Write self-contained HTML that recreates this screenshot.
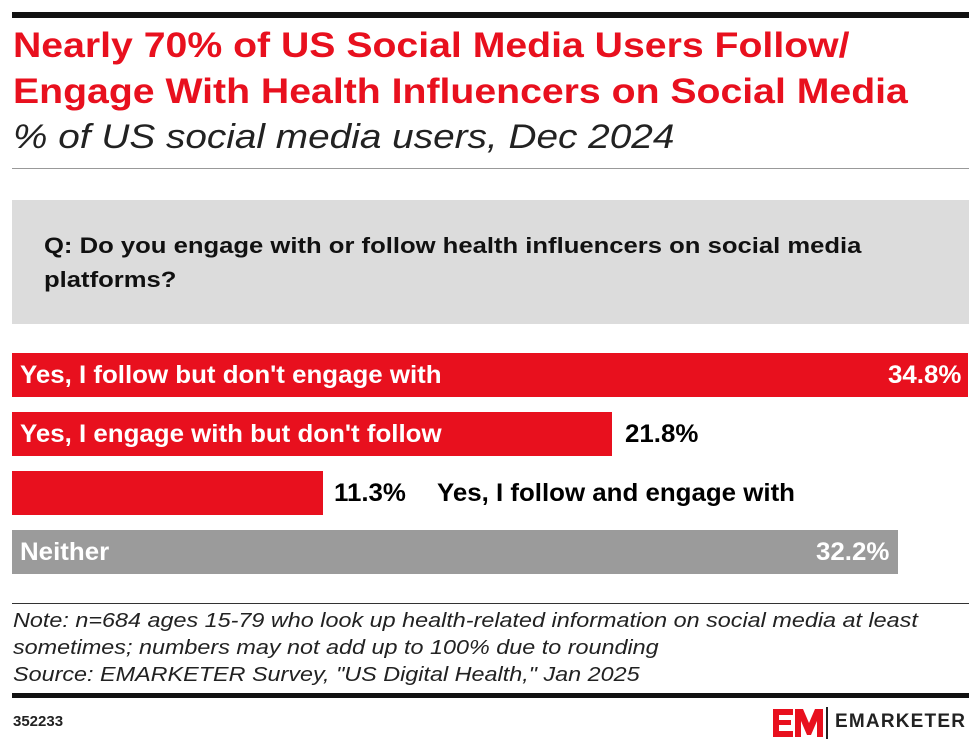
<!DOCTYPE html>
<html><head><style>
body{margin:0;width:980px;height:749px;background:#fff;font-family:"Liberation Sans",sans-serif;position:relative;overflow:hidden}
div{position:absolute;white-space:nowrap}
.s{transform-origin:0 0}
.t{color:#e8101e;font-weight:bold;font-size:35px;left:13px;line-height:42px;transform:scaleX(1.12)}
.bar{left:12px;height:44px;background:#e8101e}
.lab{font-weight:bold;font-size:25px;line-height:44px;transform:scaleX(1.035);transform-origin:0 0}
.w{color:#fff}
.n{font-style:italic;font-size:20.5px;left:13px;color:#222;transform:scaleX(1.14)}
</style></head><body>
<div style="left:12px;top:12px;width:957px;height:6px;background:#111"></div>
<div class="t s" style="top:25px">Nearly 70% of US Social Media Users Follow/</div>
<div class="t s" style="top:71px">Engage With Health Influencers on Social Media</div>
<div class="s" style="left:13px;top:118px;font-style:italic;font-size:34px;color:#222;transform:scaleX(1.14)">% of US social media users, Dec 2024</div>
<div style="left:12px;top:168px;width:957px;height:1px;background:#999"></div>
<div style="left:12px;top:200px;width:957px;height:124px;background:#dcdcdc"></div>
<div class="s" style="left:44px;top:229px;font-weight:bold;font-size:22px;line-height:34px;color:#111;transform:scaleX(1.165)">Q: Do you engage with or follow health influencers on social media<br>platforms?</div>
<div class="bar" style="top:353px;width:956px"></div>
<div class="lab w" style="left:20px;top:353px">Yes, I follow but don't engage with</div>
<div class="lab w" style="left:888px;top:353px">34.8%</div>
<div class="bar" style="top:412px;width:600px"></div>
<div class="lab w" style="left:20px;top:412px">Yes, I engage with but don't follow</div>
<div class="lab" style="left:625px;top:412px">21.8%</div>
<div class="bar" style="top:471px;width:311px"></div>
<div class="lab" style="left:334px;top:471px">11.3%</div>
<div class="lab" style="left:437px;top:471px">Yes, I follow and engage with</div>
<div class="bar" style="top:530px;width:886px;background:#9b9b9b"></div>
<div class="lab w" style="left:20px;top:530px">Neither</div>
<div class="lab w" style="left:816px;top:530px">32.2%</div>
<div style="left:12px;top:603px;width:957px;height:1px;background:#333"></div>
<div class="n s" style="top:609px">Note: n=684 ages 15-79 who look up health-related information on social media at least</div>
<div class="n s" style="top:636px">sometimes; numbers may not add up to 100% due to rounding</div>
<div class="n s" style="top:663px">Source: EMARKETER Survey, "US Digital Health," Jan 2025</div>
<div style="left:12px;top:693px;width:957px;height:5px;background:#111"></div>
<div style="left:13px;top:713px;font-weight:bold;font-size:15px;color:#222">352233</div>
<div style="left:773px;top:709px;width:50px;height:28px">
<svg width="50" height="28" viewBox="0 0 50 28"><path fill="#e8101e" d="M0 0h20v6H6v5h12v5H6v6h14v6H0zM22 0h8l6 14 6-14h8v28h-6V12l-6 14h-4l-6-14v16h-6z"/></svg></div>
<div style="left:826px;top:707px;width:2px;height:32px;background:#222"></div>
<div style="left:835px;top:711px;font-weight:bold;font-size:19px;letter-spacing:1.2px;color:#222">EMARKETER</div>
</body></html>
